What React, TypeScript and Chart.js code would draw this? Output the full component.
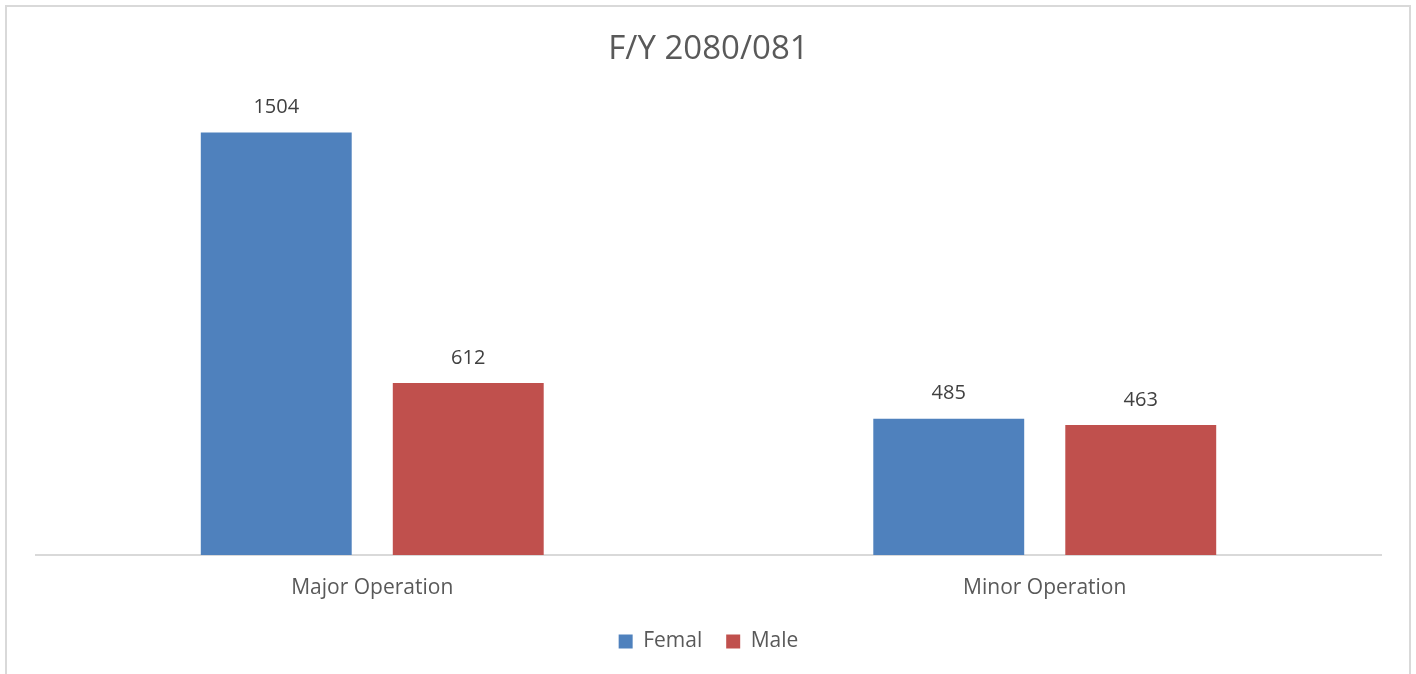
import React, { useEffect, useRef } from "react";
import { Chart, registerables } from "chart.js";

Chart.register(...registerables);

const chartTitle = "F/Y 2080/081";
const categories = ["Major Operation", "Minor Operation"];
const seriesNames = ["Femal", "Male"];
const femaleValues = [1504, 485];
const maleValues = [612, 463];
const seriesColors = ["#4F81BD", "#C0504D"];
const axisMax = 1600;

const FONT = "'Open Sans', 'DejaVu Sans', sans-serif";

const frame = {
  id: "frame",
  beforeDraw(chart: any) {
    const ctx = chart.ctx;
    ctx.save();
    ctx.fillStyle = "#ffffff";
    ctx.fillRect(0, 0, chart.width, chart.height);
    ctx.strokeStyle = "#D9D9D9";
    ctx.lineWidth = 2;
    ctx.beginPath();
    ctx.moveTo(6, chart.height + 5);
    ctx.lineTo(6, 6);
    ctx.lineTo(1410, 6);
    ctx.lineTo(1410, chart.height + 5);
    ctx.stroke();
    ctx.restore();
  },
};

const valueLabels = {
  id: "valueLabels",
  afterDatasetsDraw(chart: any) {
    const ctx = chart.ctx;
    ctx.save();
    ctx.font = `20px ${FONT}`;
    ctx.fillStyle = "#404040";
    ctx.textAlign = "center";
    ctx.textBaseline = "middle";
    chart.data.datasets.forEach((ds: any, i: number) => {
      const meta = chart.getDatasetMeta(i);
      meta.data.forEach((el: any, j: number) => {
        ctx.fillText(String(ds.data[j]), el.x, el.y - 25);
      });
    });
    ctx.restore();
  },
};

export default function App() {
  const ref = useRef<HTMLCanvasElement | null>(null);
  useEffect(() => {
    if (!ref.current) return;
    const chart = new Chart(ref.current, {
      type: "bar",
      data: {
        labels: categories,
        datasets: [
          {
            label: seriesNames[0],
            data: femaleValues,
            backgroundColor: seriesColors[0],
            categoryPercentage: 0.571,
            barPercentage: 0.786,
          },
          {
            label: seriesNames[1],
            data: maleValues,
            backgroundColor: seriesColors[1],
            categoryPercentage: 0.571,
            barPercentage: 0.786,
          },
        ],
      },
      options: {
        responsive: false,
        animation: false,
        layout: { padding: { left: 36, right: 35, top: 0, bottom: 12 } },
        plugins: {
          tooltip: { enabled: false },
          title: {
            display: true,
            text: chartTitle,
            color: "#595959",
            font: { family: FONT, size: 33, weight: "normal" },
            padding: { top: 30, bottom: 36 },
          },
          legend: {
            display: true,
            position: "bottom",
            labels: {
              color: "#595959",
              font: { family: FONT, size: 21 },
              boxWidth: 14,
              boxHeight: 14,
              padding: 24,
            },
          },
        },
        scales: {
          x: {
            grid: { display: false, drawTicks: false },
            border: { display: true, color: "#D9D9D9", width: 2 },
            ticks: {
              color: "#595959",
              font: { family: FONT, size: 21 },
              padding: 20,
            },
            afterFit(scale: any) {
              scale.height = 52;
            },
          },
          y: {
            display: false,
            min: 0,
            max: axisMax,
          },
        },
      },
      plugins: [frame, valueLabels],
    });
    return () => chart.destroy();
  }, []);
  return (
    <canvas
      ref={ref}
      width={1416}
      height={674}
      style={{ position: "fixed", left: 0, top: 0, display: "block" }}
    />
  );
}
